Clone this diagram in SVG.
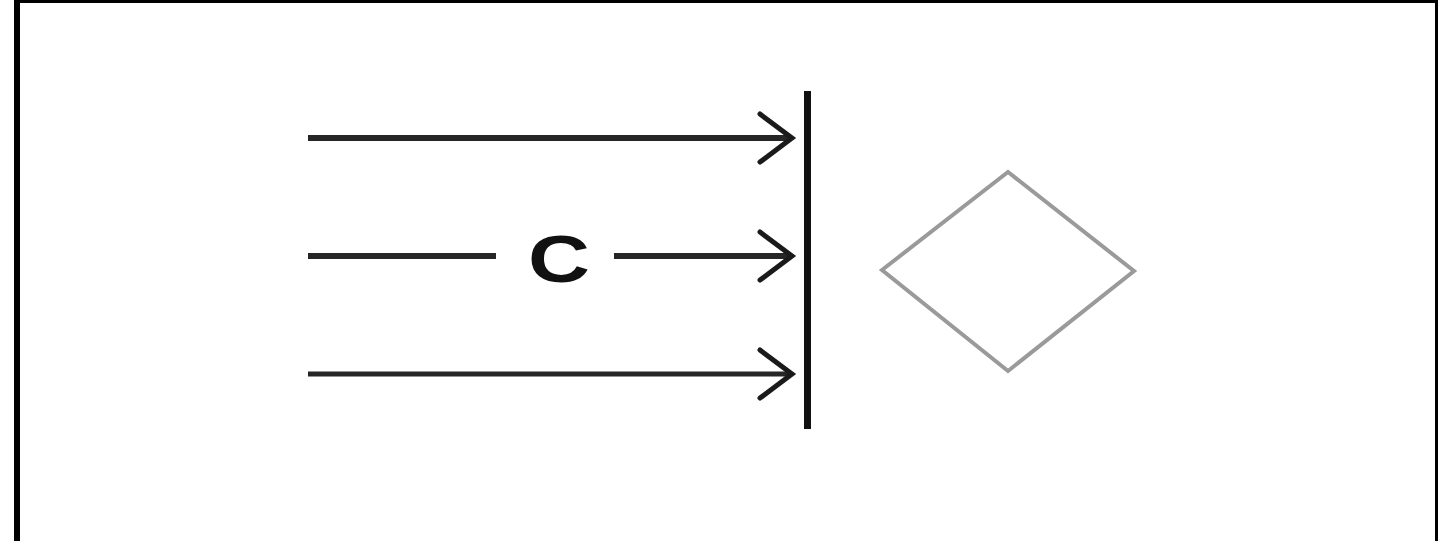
<svg xmlns="http://www.w3.org/2000/svg" width="1440" height="541" viewBox="0 0 1440 541">
<style>
.ln{stroke:#262626;stroke-width:6;fill:none;stroke-linecap:butt}
.ah{stroke:#1a1a1a;stroke-width:5;fill:none;stroke-linecap:round;stroke-linejoin:miter}
.lbl{font-family:"Liberation Sans",Arial,sans-serif;font-weight:bold;fill:#111}
.fr{stroke:#000;fill:none}
</style>
<rect x="0" y="0" width="1440" height="541" fill="#fff"/>
<g id="frame">
<line class="fr" x1="17" y1="0" x2="17" y2="541" stroke-width="6"/>
<line class="fr" x1="14" y1="1.5" x2="1438" y2="1.5" stroke-width="3"/>
<line class="fr" x1="1436.5" y1="0" x2="1436.5" y2="541" stroke-width="3"/>
</g>
<g id="connectors">
<line class="ln" x1="308" y1="138" x2="792" y2="138"/>
<polyline class="ah" points="760,114 792,138 760,162"/>
<line class="ln" x1="308" y1="256" x2="496" y2="256"/>
<line class="ln" x1="614" y1="256" x2="792" y2="256"/>
<polyline class="ah" points="760,232 792,256 760,280"/>
<line class="ln" x1="308" y1="374" x2="792" y2="374" style="stroke-width:5"/>
<polyline class="ah" points="760,350 792,374 760,398"/>
</g>
<g id="label-c">
<text class="lbl" font-size="66" text-anchor="middle" transform="translate(559,282) scale(1.3,1)">C</text>
</g>
<g id="bar">
<line x1="807.5" y1="91" x2="807.5" y2="429" stroke="#111" stroke-width="7"/>
</g>
<g id="diamond">
<polygon points="882,270 1008,172 1134,271 1008,371" fill="#fff" stroke="#9a9a9a" stroke-width="4"/>
</g>
</svg>
